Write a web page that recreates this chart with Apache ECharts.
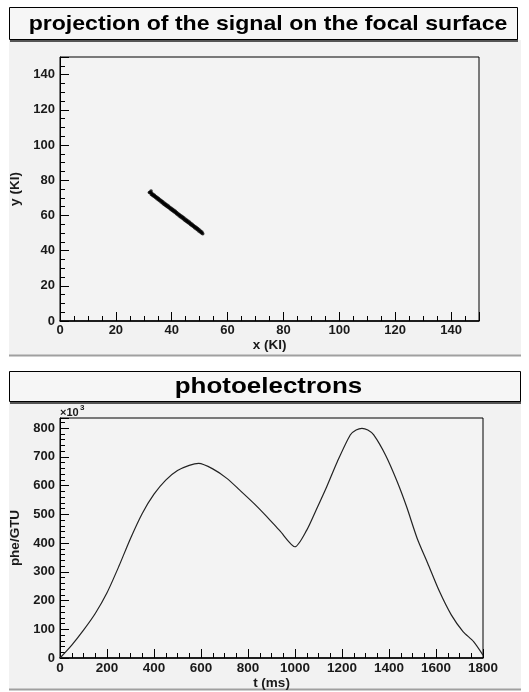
<!DOCTYPE html>
<html>
<head>
<meta charset="utf-8">
<script src="https://cdn.jsdelivr.net/npm/echarts@6.0.0/dist/echarts.min.js"></script>
<style>
  html, body { margin: 0; padding: 0; background: #fff; }
  #chart { width: 529px; height: 692px; }
</style>
</head>
<body>
<div id="chart"></div>
<script>
// hits of the track on the focal surface, [x, y] in KI
const trackPoints = [
  [32.0, 73.0], [32.6, 73.8], [32.3, 73.2], [32.7, 71.9], [32.8, 72.6], [33.2, 71.3],
  [33.3, 72.0], [33.7, 70.7], [33.8, 71.4], [34.2, 70.1], [34.3, 70.8], [34.7, 69.5],
  [34.8, 70.2], [35.2, 68.9], [35.3, 69.6], [35.7, 68.3], [35.8, 68.9], [36.2, 67.6],
  [36.3, 68.3], [36.7, 67.0], [36.8, 67.7], [37.2, 66.4], [37.3, 67.1], [37.7, 65.8],
  [37.8, 66.5], [38.2, 65.2], [38.3, 65.9], [38.7, 64.6], [38.8, 65.3], [39.2, 64.0],
  [39.3, 64.7], [39.7, 63.4], [39.8, 64.1], [40.2, 62.8], [40.3, 63.5], [40.7, 62.2],
  [40.8, 62.9], [41.2, 61.6], [41.3, 62.3], [41.7, 61.0], [41.8, 61.7], [42.2, 60.4],
  [42.3, 61.0], [42.7, 59.7], [42.8, 60.4], [43.2, 59.1], [43.3, 59.8], [43.7, 58.5],
  [43.8, 59.2], [44.2, 57.9], [44.3, 58.6], [44.7, 57.3], [44.8, 58.0], [45.2, 56.7],
  [45.3, 57.4], [45.7, 56.1], [45.8, 56.8], [46.2, 55.5], [46.3, 56.2], [46.7, 54.9],
  [46.8, 55.6], [47.2, 54.3], [47.3, 55.0], [47.7, 53.7], [47.8, 54.3], [48.2, 53.0],
  [48.3, 53.7], [48.7, 52.4], [48.8, 53.1], [49.2, 51.8], [49.3, 52.5], [49.7, 51.2],
  [49.8, 51.9], [50.2, 50.6], [50.3, 51.2], [50.7, 50.0], [50.8, 50.6], [51.1, 49.6]
];

// photoelectron curve
const timeMs = [0, 50, 100, 150, 200, 250, 300, 350, 400, 450, 500, 550, 590, 650, 710,
  765, 825, 880, 935, 1000, 1050, 1090, 1135, 1180, 1235, 1260, 1285, 1310, 1335, 1385,
  1435, 1475, 1520, 1565, 1615, 1665, 1715, 1760, 1800];
const pheK = [0, 45, 97, 155, 227, 318, 416, 503, 570, 619, 652, 670, 677, 658, 625,
  584, 538, 492, 443, 387, 445, 515, 596, 683, 776, 793, 799, 793, 776, 706,
  613, 526, 416, 329, 231, 150, 92, 57, 10];

const font = '"Liberation Sans", Arial, sans-serif';
const ink = '#1a1a1a';

function valueAxis(gridIndex, opts) {
  return Object.assign({
    type: 'value',
    gridIndex: gridIndex,
    nameLocation: 'middle',
    nameTextStyle: { fontFamily: font, fontWeight: 'bold', fontSize: 13.5, color: ink },
    axisLine: { show: true, lineStyle: { color: '#000', width: 1 } },
    axisTick: { show: true, inside: true, length: 9, lineStyle: { color: '#000' } },
    minorTick: { show: true, splitNumber: 4, length: 5, lineStyle: { color: '#000' } },
    splitLine: { show: false },
    axisLabel: {
      fontFamily: font, fontWeight: 'bold', fontSize: 13, color: ink,
      margin: 5, showMaxLabel: false, formatter: v => String(v)
    }
  }, opts);
}

const chart = echarts.init(document.getElementById('chart'));

chart.setOption({
  animation: false,
  backgroundColor: '#fff',
  grid: [
    { left: 60, top: 57, width: 419, height: 264, show: true,
      backgroundColor: '#f3f3f3', borderColor: '#000', borderWidth: 1 },
    { left: 60, top: 418, width: 423, height: 240, show: true,
      backgroundColor: '#f3f3f3', borderColor: '#000', borderWidth: 1 }
  ],
  xAxis: [
    valueAxis(0, { min: 0, max: 150, interval: 20, name: 'x (KI)', nameGap: 15,
      axisLine: { show: true, lineStyle: { color: '#000', width: 1.5 } },
      axisLabel: { fontFamily: font, fontWeight: 'bold', fontSize: 13, color: ink,
        margin: 3, showMaxLabel: false, formatter: v => String(v) } }),
    valueAxis(1, { min: 0, max: 1800, interval: 200, name: 't (ms)', nameGap: 15,
      axisLine: { show: true, lineStyle: { color: '#000', width: 1.5 } },
      axisLabel: { fontFamily: font, fontWeight: 'bold', fontSize: 13.5, color: ink,
        margin: 3, formatter: v => String(v) } })
  ],
  yAxis: [
    valueAxis(0, { min: 0, max: 150, interval: 20, name: 'y (KI)', nameGap: 27 }),
    valueAxis(1, { min: 0, max: 835, interval: 100, name: 'phe/GTU', nameGap: 27,
      minorTick: { show: true, splitNumber: 5, length: 5, lineStyle: { color: '#000' } } })
  ],
  series: [
    {
      type: 'scatter',
      xAxisIndex: 0,
      yAxisIndex: 0,
      symbol: 'circle',
      symbolSize: 3.5,
      itemStyle: { color: '#000' },
      silent: true,
      data: trackPoints
    },
    {
      type: 'line',
      xAxisIndex: 1,
      yAxisIndex: 1,
      showSymbol: false,
      smooth: 0.25,
      lineStyle: { color: '#222', width: 1.2 },
      silent: true,
      data: timeMs.map((t, i) => [t, pheK[i]])
    }
  ],
  graphic: [
    // pad backgrounds
    { type: 'rect', z: -10, shape: { x: 9, y: 40, width: 512, height: 315 },
      style: { fill: '#f2f2f2' } },
    { type: 'line', z: -9, shape: { x1: 9, y1: 355.5, x2: 521, y2: 355.5 },
      style: { stroke: '#a0a0a0', lineWidth: 2 } },
    { type: 'rect', z: -10, shape: { x: 9, y: 402, width: 512, height: 287 },
      style: { fill: '#f2f2f2' } },
    { type: 'line', z: -9, shape: { x1: 9, y1: 689.5, x2: 521, y2: 689.5 },
      style: { stroke: '#a0a0a0', lineWidth: 2 } },

    // title boxes
    { type: 'rect', z: 10, shape: { x: 10, y: 9, width: 508, height: 33 },
      style: { fill: '#555' } },
    { type: 'rect', z: 11, shape: { x: 9.5, y: 7.5, width: 508, height: 32 },
      style: { fill: '#f6f6f6', stroke: '#000', lineWidth: 1 } },
    { type: 'text', z: 12, x: 268, y: 24, scaleX: 1.1,
      style: { text: 'projection of the signal on the focal surface',
        font: 'bold 21px ' + font, fill: '#000',
        textAlign: 'center', textVerticalAlign: 'middle' } },

    { type: 'rect', z: 10, shape: { x: 10, y: 373, width: 511, height: 31 },
      style: { fill: '#555' } },
    { type: 'rect', z: 11, shape: { x: 9.5, y: 371.5, width: 511, height: 30 },
      style: { fill: '#f6f6f6', stroke: '#000', lineWidth: 1 } },
    { type: 'text', z: 12, x: 268.5, y: 387, scaleX: 1.18,
      style: { text: 'photoelectrons', font: 'bold 22px ' + font, fill: '#000',
        textAlign: 'center', textVerticalAlign: 'middle' } },

    // exponent of the y axis
    { type: 'text', z: 12, x: 60, y: 413,
      style: { text: '×10', font: 'bold 11px ' + font, fill: ink,
        textAlign: 'left', textVerticalAlign: 'middle' } },
    { type: 'text', z: 12, x: 80, y: 408,
      style: { text: '3', font: 'bold 8px ' + font, fill: ink,
        textAlign: 'left', textVerticalAlign: 'middle' } }
  ]
});
</script>
</body>
</html>
